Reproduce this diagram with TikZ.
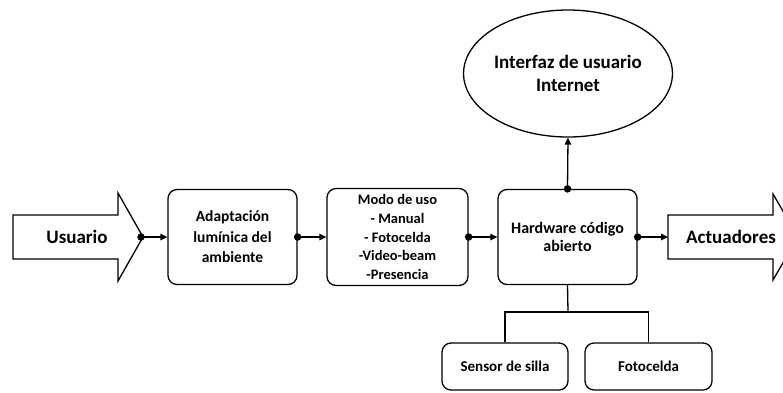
\documentclass[tikz,border=0pt]{standalone}
\usepackage{fontspec}
\setmainfont{Carlito}
\usetikzlibrary{arrows.meta,shapes.geometric}
\begin{document}
\begin{tikzpicture}[x=1pt,y=-1pt,
  lw/.style={line width=1.3pt},
  box/.style={lw,draw,rounded corners=9pt,align=center,font=\bfseries\fontsize{15}{19}\selectfont,inner sep=1pt},
  conn/.style={lw,-{Triangle[length=7pt,width=6.5pt]}},
  dotc/.style={circle,fill,inner sep=0pt,minimum size=7.5pt},
  bigtxt/.style={font=\bfseries\fontsize{19}{23}\selectfont}]
\useasboundingbox (0,0) rectangle (783,392);
% Usuario arrow
\draw[lw,fill=white] (13,215) -- (118,215) -- (118,193) -- (143,237) -- (118,281) -- (118,259) -- (13,259) -- cycle;
\node[bigtxt] (usr) at (77,237) {Usuario};
\coordinate (usrtip) at (141,237);
% Actuadores arrow
\draw[lw,fill=white] (668,215) -- (773,215) -- (773,194) -- (798,237) -- (773,280) -- (773,259) -- (668,259) -- cycle;
\node[bigtxt] (act) at (731,237) {Actuadores};
\coordinate (actin) at (668,237);
% boxes
\node[box,minimum width=129pt,minimum height=95pt,font=\bfseries\fontsize{15.5}{20.5}\selectfont] (b1) at (232.5,237) {Adaptación\\lumínica del\\ambiente};
\node[box,minimum width=141pt,minimum height=97pt,font=\bfseries\fontsize{14.5}{18.7}\selectfont] (b2) at (397.5,237) {Modo de uso\\- Manual\\- Fotocelda\\-Video-beam\\-Presencia};
\node[box,minimum width=139pt,minimum height=95pt,font=\bfseries\fontsize{16}{18.5}\selectfont] (b3) at (567.5,237) {Hardware código\\abierto};
\node[lw,draw,ellipse,minimum width=194pt,minimum height=127pt,inner sep=0pt,align=center,bigtxt] (ui) at (568,73.5) {Interfaz de usuario\\Internet};
\node[box,minimum width=126pt,minimum height=47pt] (s1) at (505,366.5) {Sensor de silla};
\node[box,minimum width=127pt,minimum height=47pt] (s2) at (648.5,366.5) {Fotocelda};
% connectors
\draw[conn] (usrtip) -- (b1.west);
\node[dotc] at (usrtip) {};
\draw[conn] (b1.east) -- (b2.west);
\node[dotc] at (b1.east) {};
\draw[conn] (b2.east) -- (b3.west);
\node[dotc] at (b2.east) {};
\draw[conn] (b3.east) -- (actin);
\node[dotc] at (b3.east) {};
\draw[conn] (b3.north) -- (ui.south);
\node[dotc] at (b3.north) {};
\coordinate (split) at (568,312);
\draw[lw] (b3.south) -- (split);
\draw[lw] (s1.north) |- (split) -| (s2.north);
\end{tikzpicture}
\end{document}
